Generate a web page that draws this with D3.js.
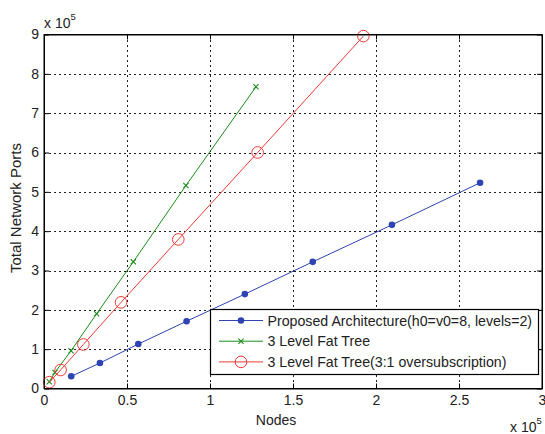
<!DOCTYPE html>
<html>
<head>
<meta charset="utf-8">
<script src="https://cdn.jsdelivr.net/npm/d3@7"></script>
<style>
  html, body { margin: 0; padding: 0; background: #fff; }
  svg { display: block; font-family: "Liberation Sans", Arial, sans-serif; }
</style>
</head>
<body>
<svg id="chart" width="545" height="434"></svg>
<script>
// Node counts and total switch/NIC port counts for three topologies
const proposedNodes = [16400, 33700, 56800, 85900, 121000, 161900, 209600, 262700];
const proposedPorts = [31000, 64800, 113000, 171000, 240000, 322000, 416000, 523000];

const fatTreeNodes = [3200, 6600, 16300, 31700, 53800, 85500, 127700];
const fatTreePorts = [17000, 41000, 96000, 190000, 322000, 516000, 767000];

const overNodes = [3200, 10000, 23700, 46400, 80900, 128700, 192400];
const overPorts = [16000, 47000, 112000, 219000, 379000, 600000, 896000];

const seriesNames = [
  "Proposed Architecture(h0=v0=8, levels=2)",
  "3 Level Fat Tree",
  "3 Level Fat Tree(3:1 oversubscription)"
];
const seriesColors = ["#2f44b3", "#1b8c1b", "#ee3a35"];

const xTicks = [0, 50000, 100000, 150000, 200000, 250000, 300000];
const yTicks = [0, 100000, 200000, 300000, 400000, 500000, 600000, 700000, 800000, 900000];

const svg = d3.select("#chart");
const L = 44, R = 542, T = 34.5, B = 388.5;
const FONT = "'Liberation Sans', Arial, sans-serif";

const x = d3.scaleLinear().domain([0, 300000]).range([L, R]);
const y = d3.scaleLinear().domain([0, 900000]).range([B, T]);
const fmt = v => String(+(v / 100000).toFixed(1));

// grid
const grid = svg.append("g").attr("stroke", "#222").attr("stroke-width", 1)
  .attr("stroke-dasharray", "2,3").attr("shape-rendering", "crispEdges");
xTicks.slice(1, -1).forEach(t => grid.append("line")
  .attr("x1", Math.round(x(t)) + 0.5).attr("x2", Math.round(x(t)) + 0.5).attr("y1", T).attr("y2", B));
yTicks.slice(1, -1).forEach(t => grid.append("line")
  .attr("y1", Math.round(y(t)) + 0.5).attr("y2", Math.round(y(t)) + 0.5).attr("x1", L).attr("x2", R));

// axes (ticks inward, box on all sides)
const axisStyle = g => {
  g.select(".domain").attr("stroke", "#000");
  g.selectAll(".tick line").attr("stroke", "#000");
  g.selectAll("text").attr("fill", "#222").attr("font-size", 14).attr("font-family", FONT);
};
svg.append("g").attr("transform", `translate(0,${B})`)
  .call(d3.axisBottom(x).tickValues(xTicks).tickFormat(fmt).tickSizeInner(-5).tickSizeOuter(0).tickPadding(7))
  .call(axisStyle);
svg.append("g").attr("transform", `translate(${L},0)`)
  .call(d3.axisLeft(y).tickValues(yTicks).tickFormat(fmt).tickSizeInner(-5).tickSizeOuter(0).tickPadding(5))
  .call(axisStyle);
svg.append("g").attr("transform", `translate(0,${T})`)
  .call(d3.axisTop(x).tickValues(xTicks).tickFormat("").tickSizeInner(-5).tickSizeOuter(0))
  .call(axisStyle);
svg.append("g").attr("transform", `translate(${R},0)`)
  .call(d3.axisRight(y).tickValues(yTicks).tickFormat("").tickSizeInner(-5).tickSizeOuter(0))
  .call(axisStyle);

// series
const line = d3.line().x(d => x(d[0])).y(d => y(d[1]));
const series = [
  { nodes: proposedNodes, ports: proposedPorts, marker: "dot" },
  { nodes: fatTreeNodes, ports: fatTreePorts, marker: "cross" },
  { nodes: overNodes, ports: overPorts, marker: "circle" }
];

function drawMarker(g, cx, cy, kind, color) {
  if (kind === "dot") {
    g.append("circle").attr("cx", cx).attr("cy", cy).attr("r", 3.3).attr("fill", color);
  } else if (kind === "circle") {
    g.append("circle").attr("cx", cx).attr("cy", cy).attr("r", 5.8)
      .attr("fill", "none").attr("stroke", color).attr("stroke-width", 1);
  } else {
    const s = 2.6;
    g.append("path").attr("d", `M${cx - s},${cy - s}L${cx + s},${cy + s}M${cx - s},${cy + s}L${cx + s},${cy - s}`)
      .attr("stroke", color).attr("stroke-width", 1.1).attr("fill", "none");
  }
}

series.forEach((s, i) => {
  const pts = s.nodes.map((n, j) => [n, s.ports[j]]);
  const g = svg.append("g");
  g.append("path").attr("d", line(pts)).attr("fill", "none")
    .attr("stroke", seriesColors[i]).attr("stroke-width", 1);
  pts.forEach(p => drawMarker(g, x(p[0]), y(p[1]), s.marker, seriesColors[i]));
});

// plot frame on top
svg.append("rect").attr("x", L).attr("y", T).attr("width", R - L).attr("height", B - T)
  .attr("fill", "none").attr("stroke", "#000").attr("stroke-width", 1);

// legend
const lg = svg.append("g");
lg.append("rect").attr("x", 210.5).attr("y", 309.5).attr("width", 328).attr("height", 65)
  .attr("fill", "#fff").attr("stroke", "#000").attr("stroke-width", 1.2);
seriesNames.forEach((name, i) => {
  const yy = 320.5 + i * 20.7;
  lg.append("line").attr("x1", 219).attr("x2", 263).attr("y1", yy).attr("y2", yy)
    .attr("stroke", seriesColors[i]).attr("stroke-width", 1);
  drawMarker(lg, 241, yy, series[i].marker, seriesColors[i]);
  lg.append("text").attr("x", 267.5).attr("y", yy + 5).attr("font-size", 14.2)
    .attr("fill", "#222").text(name);
});

// axis labels and exponent notes
svg.append("text").attr("x", 276).attr("y", 425).attr("text-anchor", "middle")
  .attr("font-size", 14).attr("fill", "#222").text("Nodes");
svg.append("text").attr("transform", "translate(20.5,208) rotate(-90)").attr("text-anchor", "middle")
  .attr("font-size", 15).attr("fill", "#222").text("Total Network Ports");

const expTop = svg.append("text").attr("x", 44).attr("y", 28).attr("font-size", 14).attr("fill", "#222");
expTop.append("tspan").text("x 10");
expTop.append("tspan").attr("dy", -8).attr("font-size", 9.5).text("5");

const expBot = svg.append("text").attr("x", 510).attr("y", 432).attr("font-size", 14).attr("fill", "#222");
expBot.append("tspan").text("x 10");
expBot.append("tspan").attr("dy", -8).attr("font-size", 9.5).text("5");
</script>
</body>
</html>
